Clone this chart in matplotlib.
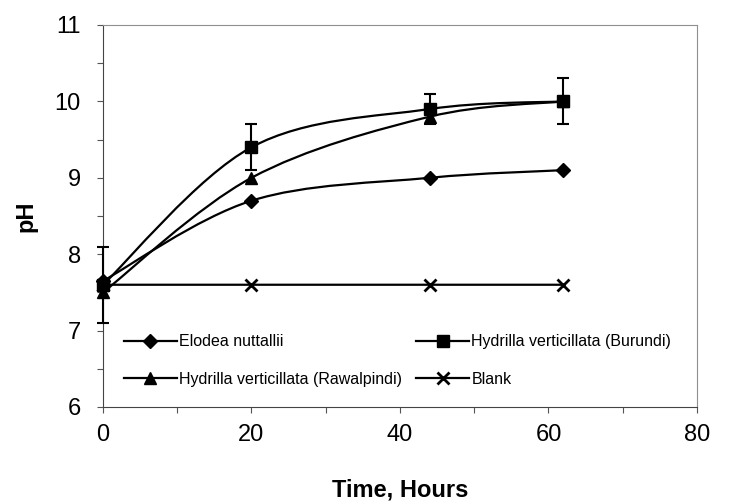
import numpy as np
import matplotlib
matplotlib.use('Agg')
import matplotlib.pyplot as plt
from matplotlib.path import Path
from matplotlib.patches import PathPatch
from matplotlib.lines import Line2D
from matplotlib.ticker import MultipleLocator

plt.rcParams['font.family'] = ['Liberation Sans', 'DejaVu Sans']

# Data
hours = [0, 20, 44, 62]
elodea = [7.65, 8.7, 9.0, 9.1]
burundi = [7.6, 9.4, 9.9, 10.0]
burundi_err = [0.5, 0.3, 0.2, 0.3]
rawalpindi = [7.5, 9.0, 9.8, 10.0]
blank = [7.6, 7.6, 7.6, 7.6]

names = ['Elodea nuttallii', 'Hydrilla verticillata (Burundi)',
         'Hydrilla verticillata (Rawalpindi)', 'Blank']
markers = ['D', 's', '^', 'x']
msizes = [7, 8, 8.5, 9]


def smooth_path(x, y):
    # Excel-style smoothed line: cubic bezier between the points
    pts = np.column_stack([x, y]).astype(float)
    n = len(pts)
    verts = [pts[0]]
    codes = [Path.MOVETO]
    for i in range(n - 1):
        p0 = pts[max(i - 1, 0)]
        p1 = pts[i]
        p2 = pts[i + 1]
        p3 = pts[min(i + 2, n - 1)]
        c1 = p1 + (p2 - p0) / 6.0
        c2 = p2 - (p3 - p1) / 6.0
        verts += [c1, c2, p2]
        codes += [Path.CURVE4] * 3
    return Path(verts, codes)


fig = plt.figure(figsize=(7.29, 5.04), dpi=100)
ax = fig.add_axes([0.1413, 0.1925, 0.8147, 0.7579])

series = [elodea, burundi, rawalpindi, blank]
for vals, m, ms in zip(series, markers, msizes):
    ax.add_patch(PathPatch(smooth_path(hours, vals), fill=False,
                           edgecolor='black', lw=1.6, zorder=2))
    ax.plot(hours, vals, linestyle='none', marker=m, ms=ms, color='black',
            mew=2 if m == 'x' else 1, zorder=3, clip_on=False)

eb = ax.errorbar(hours, burundi, yerr=burundi_err, fmt='none', ecolor='black',
                 elinewidth=1.5, capsize=4.5, capthick=1.5, zorder=3)
for art in eb.lines[1] + eb.lines[2]:
    art.set_clip_on(False)

ax.set_xlim(0, 80)
ax.set_ylim(6, 11)
ax.xaxis.set_major_locator(MultipleLocator(20))
ax.xaxis.set_minor_locator(MultipleLocator(10))
ax.yaxis.set_major_locator(MultipleLocator(1))
ax.yaxis.set_minor_locator(MultipleLocator(0.5))
ax.tick_params(which='both', direction='out', length=4, width=0.8, color='#555555')
ax.tick_params(which='major', labelsize=17, pad=8)
ax.tick_params(axis='y', which='major', pad=12)

for side in ['top', 'right']:
    ax.spines[side].set_color('#909090')
    ax.spines[side].set_linewidth(0.8)
for side in ['left', 'bottom']:
    ax.spines[side].set_color('#444444')
    ax.spines[side].set_linewidth(0.8)

ax.set_xlabel('Time, Hours', fontsize=17, fontweight='bold', labelpad=24)
ax.set_ylabel('pH', fontsize=17, fontweight='bold', labelpad=12)

handles = [Line2D([], [], color='black', lw=1.6, marker=m, ms=ms,
                  mew=2 if m == 'x' else 1)
           for m, ms in zip(markers, msizes)]
# legend fills by column, so reorder to get rows as in the original
order = [0, 2, 1, 3]
ax.legend([handles[i] for i in order], [names[i] for i in order], ncol=2,
          loc='upper left', bbox_to_anchor=(0.035, 0.19),
          frameon=False, fontsize=11.5, handlelength=3.3, handletextpad=0.15,
          labelspacing=1.4, columnspacing=0.9, borderpad=0, borderaxespad=0)

fig.savefig('out.png', dpi=100)
